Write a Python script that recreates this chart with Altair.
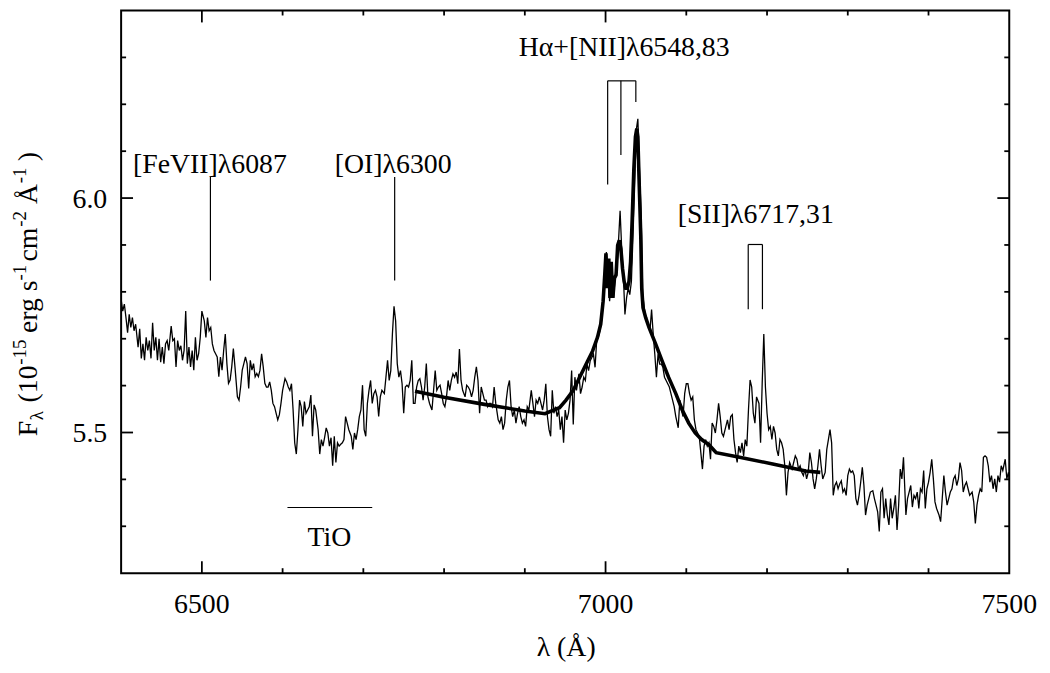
import altair as alt
import pandas as pd

FONT = "Liberation Serif"

# ---------------- spectrum, in six consecutive pieces ----------------
wl1 = [6400, 6402, 6404, 6406, 6408, 6410, 6412, 6414, 6416, 6418,
       6421, 6423, 6425, 6427, 6429, 6431, 6433, 6435, 6437, 6439,
       6441, 6443, 6445, 6447, 6449, 6451, 6453, 6455, 6457, 6459,
       6462, 6464, 6466, 6468, 6470, 6472, 6474, 6476, 6478, 6480,
       6482, 6484, 6486, 6488, 6490, 6492, 6494, 6496, 6498, 6500,
       6503, 6505, 6507, 6509, 6511, 6513, 6515, 6517, 6519, 6521,
       6523, 6525, 6527, 6529, 6531, 6533, 6535, 6537, 6539, 6541,
       6544, 6546, 6548, 6550, 6552, 6554, 6556, 6558, 6560, 6562,
       6564, 6566, 6568, 6570, 6572, 6574, 6576, 6578, 6580]
fx1 = [5.784, 5.759, 5.774, 5.745, 5.713, 5.752, 5.724, 5.745, 5.717, 5.731,
       5.682, 5.721, 5.658, 5.689, 5.654, 5.703, 5.675, 5.696, 5.658, 5.734,
       5.675, 5.703, 5.654, 5.700, 5.650, 5.682, 5.647, 5.689, 5.696, 5.675,
       5.727, 5.696, 5.700, 5.640, 5.696, 5.675, 5.685, 5.654, 5.675, 5.759,
       5.647, 5.682, 5.640, 5.675, 5.633, 5.703, 5.654, 5.668, 5.703, 5.759,
       5.738, 5.703, 5.745, 5.717, 5.724, 5.689, 5.675, 5.668, 5.661, 5.619,
       5.661, 5.633, 5.675, 5.710, 5.647, 5.605, 5.612, 5.640, 5.679, 5.640,
       5.576, 5.569, 5.597, 5.633, 5.647, 5.661, 5.647, 5.594, 5.654, 5.633,
       5.647, 5.619, 5.626, 5.619, 5.633, 5.668, 5.640, 5.605, 5.597]

wl2 = [6582, 6584, 6586, 6588, 6590, 6592, 6594, 6596, 6598, 6600,
       6603, 6605, 6607, 6609, 6611, 6613, 6615, 6617, 6619, 6621,
       6623, 6625, 6627, 6629, 6631, 6633, 6635, 6637, 6639, 6641,
       6644, 6646, 6648, 6650, 6652, 6654, 6656, 6658, 6660, 6662,
       6664, 6666, 6668, 6670, 6672, 6674, 6676, 6678, 6680, 6682,
       6685, 6687, 6689, 6691, 6693, 6695, 6697, 6699, 6701, 6703,
       6705, 6707, 6709, 6711, 6713, 6715, 6717, 6719, 6721, 6723,
       6726, 6728, 6730, 6732, 6734, 6736, 6738, 6740, 6742, 6744,
       6746, 6748, 6750, 6752, 6754, 6756, 6758, 6760, 6762]
fx2 = [5.597, 5.608, 5.590, 5.562, 5.555, 5.541, 5.527, 5.538, 5.562, 5.590,
       5.615, 5.608, 5.597, 5.590, 5.604, 5.548, 5.478, 5.454, 5.506, 5.569,
       5.555, 5.513, 5.566, 5.541, 5.548, 5.555, 5.580, 5.492, 5.559, 5.548,
       5.506, 5.454, 5.485, 5.471, 5.489, 5.510, 5.499, 5.471, 5.489, 5.429,
       5.492, 5.436, 5.478, 5.471, 5.475, 5.478, 5.485, 5.534, 5.520, 5.506,
       5.492, 5.464, 5.499, 5.485, 5.506, 5.534, 5.548, 5.601, 5.506, 5.492,
       5.562, 5.590, 5.611, 5.562, 5.583, 5.590, 5.576, 5.534, 5.576, 5.590,
       5.583, 5.618, 5.654, 5.611, 5.632, 5.710, 5.769, 5.738, 5.647, 5.618,
       5.632, 5.604, 5.541, 5.597, 5.601, 5.597, 5.611, 5.654, 5.562]

wl3 = [6764, 6766, 6768, 6770, 6772, 6774, 6776, 6778, 6780, 6782,
       6785, 6787, 6789, 6791, 6793, 6795, 6797, 6799, 6801, 6803,
       6805, 6807, 6809, 6811, 6813, 6815, 6817, 6819, 6821, 6823,
       6826, 6828, 6830, 6832, 6834, 6836, 6838, 6840, 6842, 6844,
       6846, 6848, 6850, 6852, 6854, 6856, 6858, 6860, 6862, 6864,
       6867, 6869, 6871, 6873, 6875, 6877, 6879, 6881, 6883, 6885,
       6887, 6889, 6891, 6893, 6895, 6897, 6899, 6901, 6903, 6905,
       6908, 6910, 6912, 6914, 6916, 6918, 6920, 6922, 6924, 6926,
       6928, 6930, 6932, 6934, 6936, 6938, 6940, 6942, 6944]
fx3 = [5.562, 5.597, 5.611, 5.615, 5.597, 5.569, 5.597, 5.647, 5.576, 5.562,
       5.548, 5.590, 5.632, 5.590, 5.597, 5.601, 5.583, 5.562, 5.555, 5.576,
       5.611, 5.590, 5.611, 5.625, 5.618, 5.629, 5.604, 5.678, 5.611, 5.590,
       5.576, 5.601, 5.597, 5.590, 5.576, 5.590, 5.618, 5.640, 5.611, 5.541,
       5.597, 5.583, 5.569, 5.569, 5.555, 5.562, 5.562, 5.555, 5.597, 5.562,
       5.527, 5.520, 5.534, 5.506, 5.520, 5.569, 5.597, 5.611, 5.555, 5.534,
       5.548, 5.520, 5.541, 5.555, 5.534, 5.520, 5.527, 5.513, 5.555, 5.548,
       5.590, 5.562, 5.534, 5.569, 5.562, 5.576, 5.562, 5.548, 5.569, 5.604,
       5.534, 5.506, 5.492, 5.590, 5.541, 5.555, 5.534, 5.548, 5.506]

wl4 = [6946, 6948, 6950, 6952, 6954, 6956, 6958, 6960, 6962, 6964,
       6967, 6969, 6971, 6973, 6975, 6977, 6979, 6981, 6983, 6985,
       6987, 6989, 6991, 6993, 6995, 6997, 6999, 7001, 7003, 7005,
       7008, 7010, 7012, 7014, 7016, 7018, 7020, 7022, 7024, 7026,
       7028, 7030, 7032, 7034, 7036, 7038, 7040, 7042, 7044, 7046,
       7049, 7051, 7053, 7055, 7057, 7059, 7061, 7063, 7065, 7067,
       7069, 7071, 7073, 7075, 7077, 7079, 7081, 7083, 7085, 7087,
       7090, 7092, 7094, 7096, 7098, 7100, 7102, 7104, 7106, 7108,
       7110, 7112, 7114, 7116, 7118, 7120, 7122, 7124, 7126]
fx4 = [5.534, 5.478, 5.548, 5.527, 5.541, 5.569, 5.632, 5.517, 5.618, 5.590,
       5.625, 5.583, 5.597, 5.618, 5.611, 5.646, 5.632, 5.653, 5.660, 5.667,
       5.639, 5.696, 5.703, 5.717, 5.738, 5.773, 5.836, 5.885, 5.836, 5.780,
       5.850, 5.787, 5.836, 5.850, 5.906, 5.973, 5.892, 5.836, 5.752, 5.787,
       5.808, 5.794, 5.822, 5.920, 6.025, 6.145, 6.169, 6.061, 5.969, 5.794,
       5.752, 5.738, 5.731, 5.717, 5.762, 5.710, 5.667, 5.618, 5.667, 5.646,
       5.646, 5.639, 5.618, 5.611, 5.604, 5.597, 5.583, 5.569, 5.555, 5.534,
       5.510, 5.569, 5.548, 5.534, 5.583, 5.604, 5.604, 5.583, 5.569, 5.576,
       5.527, 5.506, 5.499, 5.492, 5.457, 5.422, 5.471, 5.485, 5.471]

wl5 = [7128, 7130, 7132, 7134, 7136, 7138, 7140, 7142, 7144, 7146,
       7149, 7151, 7153, 7155, 7157, 7159, 7161, 7163, 7165, 7167,
       7169, 7171, 7173, 7175, 7177, 7179, 7181, 7183, 7185, 7187,
       7190, 7192, 7194, 7196, 7198, 7200, 7202, 7204, 7206, 7208,
       7210, 7212, 7214, 7216, 7218, 7220, 7222, 7224, 7226, 7228,
       7231, 7233, 7235, 7237, 7239, 7241, 7243, 7245, 7247, 7249,
       7251, 7253, 7255, 7257, 7259, 7261, 7263, 7265, 7267, 7269,
       7272, 7274, 7276, 7278, 7280, 7282, 7284, 7286, 7288, 7290,
       7292, 7294, 7296, 7298, 7300, 7302, 7304, 7306, 7308]
fx5 = [5.478, 5.443, 5.520, 5.513, 5.499, 5.527, 5.562, 5.534, 5.499, 5.492,
       5.513, 5.527, 5.506, 5.534, 5.538, 5.485, 5.457, 5.436, 5.471, 5.457,
       5.478, 5.450, 5.485, 5.471, 5.548, 5.612, 5.597, 5.541, 5.520, 5.576,
       5.562, 5.478, 5.605, 5.710, 5.597, 5.541, 5.506, 5.513, 5.485, 5.513,
       5.499, 5.464, 5.450, 5.485, 5.478, 5.464, 5.429, 5.366, 5.415, 5.436,
       5.422, 5.436, 5.450, 5.443, 5.422, 5.429, 5.415, 5.408, 5.422, 5.401,
       5.415, 5.457, 5.436, 5.401, 5.380, 5.401, 5.429, 5.464, 5.429, 5.401,
       5.415, 5.464, 5.485, 5.506, 5.478, 5.366, 5.387, 5.394, 5.380, 5.390,
       5.397, 5.373, 5.380, 5.366, 5.408, 5.422, 5.415, 5.418, 5.408]

wl6 = [7310, 7312, 7314, 7316, 7318, 7320, 7322, 7324, 7326, 7328,
       7331, 7333, 7335, 7337, 7339, 7341, 7343, 7345, 7347, 7349,
       7351, 7353, 7355, 7357, 7359, 7361, 7363, 7365, 7367, 7369,
       7372, 7374, 7376, 7378, 7380, 7382, 7384, 7386, 7388, 7390,
       7392, 7394, 7396, 7398, 7400, 7402, 7404, 7406, 7408, 7410,
       7413, 7415, 7417, 7419, 7421, 7423, 7425, 7427, 7429, 7431,
       7433, 7435, 7437, 7439, 7441, 7443, 7445, 7447, 7449, 7451,
       7454, 7456, 7458, 7460, 7462, 7464, 7466, 7468, 7470, 7472,
       7474, 7476, 7478, 7480, 7482, 7484, 7486, 7488, 7490, 7492,
       7495, 7497, 7499, 7500]
fx6 = [5.359, 5.345, 5.366, 5.394, 5.426, 5.387, 5.324, 5.345, 5.359, 5.373,
       5.376, 5.359, 5.345, 5.331, 5.289, 5.373, 5.380, 5.317, 5.359, 5.324,
       5.303, 5.359, 5.317, 5.338, 5.366, 5.292, 5.345, 5.422, 5.401, 5.447,
       5.324, 5.359, 5.373, 5.387, 5.341, 5.366, 5.359, 5.373, 5.338, 5.380,
       5.373, 5.419, 5.338, 5.380, 5.394, 5.415, 5.443, 5.401, 5.352, 5.338,
       5.324, 5.310, 5.359, 5.408, 5.373, 5.345, 5.359, 5.373, 5.380, 5.401,
       5.408, 5.387, 5.401, 5.436, 5.419, 5.373, 5.387, 5.394, 5.380, 5.366,
       5.373, 5.352, 5.306, 5.345, 5.366, 5.380, 5.373, 5.447, 5.450, 5.447,
       5.429, 5.394, 5.408, 5.380, 5.401, 5.373, 5.408, 5.394, 5.429, 5.419,
       5.443, 5.401, 5.415, 5.401]

# ---------------- model fit (thick curve) ----------------
fit_wl = [6764, 6800, 6850, 6900, 6925, 6943, 6951, 6960, 6968, 6976,
          6984, 6990, 6994, 6997, 6999, 7000.5, 7002, 7004, 7005.5, 7007,
          7009, 7011, 7013, 7015, 7017, 7019, 7021, 7023, 7025, 7027,
          7029, 7031, 7033, 7035, 7037, 7038.7, 7040, 7041.5, 7043.6, 7044.8,
          7046.4, 7049.7, 7053.8, 7062, 7070, 7078, 7087, 7095, 7103, 7111,
          7119, 7128, 7137, 7166, 7207, 7248, 7266]
fit_fx = [5.588, 5.575, 5.560, 5.546, 5.540, 5.553, 5.569, 5.590, 5.618, 5.646,
          5.674, 5.703, 5.731, 5.780, 5.836, 5.882, 5.808, 5.871, 5.787, 5.864,
          5.787, 5.829, 5.836, 5.899, 5.910, 5.892, 5.850, 5.822, 5.808, 5.808,
          5.822, 5.864, 5.955, 6.061, 6.131, 6.148, 6.131, 6.040, 5.920, 5.808,
          5.766, 5.745, 5.724, 5.689, 5.653, 5.618, 5.583, 5.548, 5.520, 5.499,
          5.485, 5.474, 5.457, 5.447, 5.433, 5.418, 5.415]

# ---------------- line identifications ----------------
mk_x = [6510.6, 6738.8, 7002.6, 7019.0, 7037.5, 7176.7, 7194.3]
mk_lo = [5.824, 5.824, 6.029, 6.092, 6.205, 5.763, 5.763]
mk_hi = [6.045, 6.045, 6.250, 6.250, 6.250, 5.901, 5.901]
h_x1 = [7002.6, 7176.7, 6606]
h_x2 = [7037.5, 7194.3, 6711]
h_y = [6.250, 5.901, 5.340]
lab_text = ["[FeVII]\u03bb6087", "[OI]\u03bb6300", "H\u03b1+[NII]\u03bb6548,83", "[SII]\u03bb6717,31", "TiO"]
lab_x = [6510, 6737, 7023, 7186, 6658]
lab_y = [6.054, 6.054, 6.302, 5.947, 5.258]

# ---------------- axes ----------------
x_labels = [6500, 7000, 7500]
y_labels = [5.5, 6.0]
x_major = [6500, 7000]
x_minor = [6600, 6700, 6800, 6900, 7100, 7200, 7300, 7400]
y_major = [5.5, 6.0]
y_minor = [5.3, 5.4, 5.6, 5.7, 5.8, 5.9, 6.1, 6.2, 6.3]

W, H = 895, 567
MAJ, MIN = 12, 5

spec = pd.DataFrame({"wl": wl1 + wl2 + wl3 + wl4 + wl5 + wl6,
                     "flux": fx1 + fx2 + fx3 + fx4 + fx5 + fx6})
fit = pd.DataFrame({"wl": fit_wl, "flux": fit_fx})
marks = pd.DataFrame({"x": mk_x, "lo": mk_lo, "hi": mk_hi})
hlines = pd.DataFrame({"x1": h_x1, "x2": h_x2, "y": h_y})
labels = pd.DataFrame({"t": lab_text, "x": lab_x, "y": lab_y})
xlab = pd.DataFrame({"v": x_labels, "t": [str(v) for v in x_labels]})
ylab = pd.DataFrame({"v": y_labels, "t": ["%.1f" % v for v in y_labels]})

xs = alt.Scale(domain=[6400, 7500], nice=False, zero=False)
ys = alt.Scale(domain=[5.2, 6.4], nice=False, zero=False)

X = lambda f: alt.X(f, scale=xs, axis=None)
Y = lambda f: alt.Y(f, scale=ys, axis=None)

spec_line = alt.Chart(spec).mark_line(color="black", strokeWidth=1.3, clip=True).encode(
    x=X("wl:Q"), y=Y("flux:Q"))
fit_line = alt.Chart(fit).mark_line(color="black", strokeWidth=3.6, clip=True).encode(
    x=X("wl:Q"), y=Y("flux:Q"))
vmarks = alt.Chart(marks).mark_rule(color="black", strokeWidth=1.2).encode(
    x=X("x:Q"), y=Y("lo:Q"), y2="hi:Q")
hmarks = alt.Chart(hlines).mark_rule(color="black", strokeWidth=1.2).encode(
    x=X("x1:Q"), x2="x2:Q", y=Y("y:Q"))
texts = alt.Chart(labels).mark_text(font=FONT, fontSize=28, color="black",
                                    align="center", baseline="alphabetic").encode(
    x=X("x:Q"), y=Y("y:Q"), text="t:N")

# tick labels and axis titles
xticklab = alt.Chart(xlab).mark_text(font=FONT, fontSize=28, color="black",
                                     align="center", baseline="alphabetic").encode(
    x=X("v:Q"), y=alt.value(H + 40), text="t:N")
yticklab = alt.Chart(ylab).mark_text(font=FONT, fontSize=28, color="black",
                                     align="right", baseline="alphabetic", dy=10).encode(
    y=Y("v:Q"), x=alt.value(-14), text="t:N")
xtitle = alt.Chart(pd.DataFrame({"t": ["\u03bb (\u00c5)"]})).mark_text(
    font=FONT, fontSize=28, color="black", align="center", baseline="alphabetic").encode(
    text="t:N", x=alt.value(W / 2 + 1), y=alt.value(H + 83))


def xticks(vals, length):
    df = pd.DataFrame({"v": vals})
    base = alt.Chart(df).mark_rule(color="black", strokeWidth=1.8)
    bottom = base.encode(x=X("v:Q"), y=alt.value(H), y2=alt.value(H - length))
    top = base.encode(x=X("v:Q"), y=alt.value(0), y2=alt.value(length))
    return [bottom, top]


def yticks(vals, length):
    df = pd.DataFrame({"v": vals})
    base = alt.Chart(df).mark_rule(color="black", strokeWidth=1.8)
    left = base.encode(y=Y("v:Q"), x=alt.value(0), x2=alt.value(length))
    right = base.encode(y=Y("v:Q"), x=alt.value(W), x2=alt.value(W - length))
    return [left, right]


def piece(text, x, y, size, dy=0):
    df = pd.DataFrame({"t": [text]})
    return alt.Chart(df).mark_text(font=FONT, fontSize=size, color="black", angle=270,
                                   align="left", baseline="alphabetic").encode(
        text="t:N", x=alt.value(x + dy), y=alt.value(y))


# y-axis title, piece by piece (screen coords minus plot origin 122, 8)
BX = 37 - 122
ytitle = [
    piece("F", BX, 437 - 8, 28),
    piece("\u03bb", BX, 421 - 8, 19, 6),
    piece("(10", BX, 403 - 8, 28),
    piece("-15", BX, 365 - 8, 19, -11),
    piece("erg", BX, 333 - 8, 28),
    piece("s", BX, 291 - 8, 28),
    piece("-1", BX, 280 - 8, 19, -11),
    piece("cm", BX, 261 - 8, 28),
    piece("-2", BX, 226 - 8, 19, -11),
    piece("\u00c5", BX, 203 - 8, 28),
    piece("-1", BX, 182 - 8, 19, -11),
    piece(")", BX, 160 - 8, 28),
]

layers = [spec_line, fit_line, vmarks, hmarks, texts, xticklab, yticklab, xtitle]
layers += xticks(x_major, MAJ) + xticks(x_minor, MIN)
layers += yticks(y_major, MAJ) + yticks(y_minor, MIN)
layers += ytitle

chart = alt.layer(*layers).properties(
    width=W, height=H,
    autosize="none",
    padding={"left": 114, "top": 0, "right": 33, "bottom": 90},
    background="white",
).configure_view(stroke="black", strokeWidth=2)

chart.save("out.html", embed_options={"renderer": "svg", "actions": False})
